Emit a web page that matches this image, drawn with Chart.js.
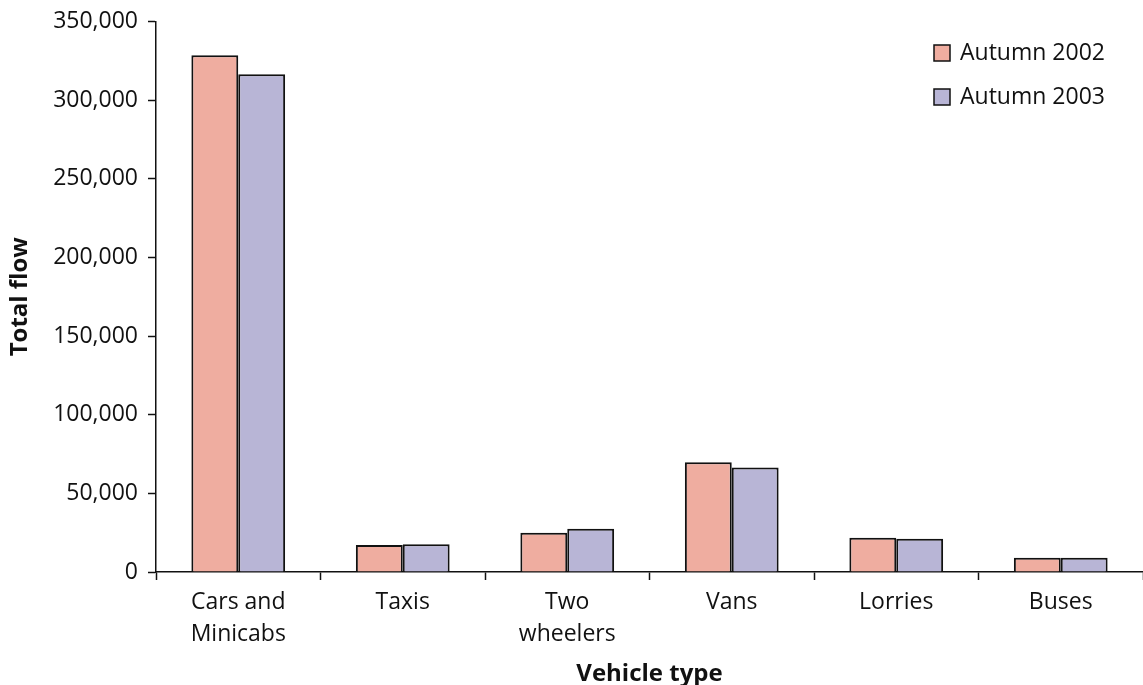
<!DOCTYPE html>
<html>
<head>
<meta charset="utf-8">
<script src="https://cdn.jsdelivr.net/npm/chart.js@4/dist/chart.umd.min.js"></script>
<style>
  html, body { margin: 0; padding: 0; background: #fff; }
  #wrap { width: 1143px; height: 685px; position: relative; }
</style>
</head>
<body>
<div id="wrap"><canvas id="c" width="1143" height="685"></canvas></div>
<script>
// Vehicle categories (multi-line labels)
const categories = [
  ['Cars and', 'Minicabs'],
  'Taxis',
  ['Two', 'wheelers'],
  'Vans',
  'Lorries',
  'Buses'
];

// Total flow by vehicle type
const autumn2002 = [328500, 17100, 24900, 69800, 21800, 9100];
const autumn2003 = [316500, 17600, 27500, 66400, 21100, 9000];

const seriesNames = ['Autumn 2002', 'Autumn 2003'];
const yTicks = [0, 50000, 100000, 150000, 200000, 250000, 300000, 350000];

const FONT = '"Open Sans", "Noto Sans", sans-serif';
const PINK = '#EFADA0';
const LILAC = '#B8B5D6';

// Legend drawn in the top-right corner of the plot area
const cornerLegend = {
  id: 'cornerLegend',
  afterDraw(chart) {
    const ctx = chart.ctx;
    const area = chart.chartArea;
    const x = area.right - 209;
    let y = 53;
    ctx.save();
    ctx.font = '23px ' + FONT;
    ctx.textBaseline = 'middle';
    ctx.textAlign = 'left';
    chart.data.datasets.forEach(ds => {
      ctx.fillStyle = ds.backgroundColor;
      ctx.fillRect(x, y - 8, 16, 16);
      ctx.lineWidth = 1.5;
      ctx.strokeStyle = '#111';
      ctx.strokeRect(x, y - 8, 16, 16);
      ctx.fillStyle = '#111';
      ctx.fillText(ds.label, x + 26, y);
      y += 44;
    });
    ctx.restore();
  }
};

new Chart(document.getElementById('c'), {
  type: 'bar',
  data: {
    labels: categories,
    datasets: [
      { label: seriesNames[0], data: autumn2002, backgroundColor: PINK, borderColor: '#111', borderWidth: 2 },
      { label: seriesNames[1], data: autumn2003, backgroundColor: LILAC, borderColor: '#111', borderWidth: 2 }
    ]
  },
  options: {
    responsive: false,
    animation: false,
    devicePixelRatio: 1,
    layout: { padding: { top: 4, right: 0, left: 0, bottom: 0 } },
    datasets: { bar: { categoryPercentage: 0.57, barPercentage: 1.0 } },
    plugins: {
      legend: { display: false },
      tooltip: { enabled: false }
    },
    scales: {
      x: {
        grid: {
          offset: true,
          drawOnChartArea: false,
          tickLength: 8,
          tickColor: '#111',
          tickWidth: 1.5
        },
        border: { color: '#111', width: 1.5 },
        ticks: {
          color: '#111',
          font: { family: FONT, size: 23, lineHeight: 1.4 },
          maxRotation: 0,
          autoSkip: false,
          padding: 6
        },
        title: {
          display: true,
          text: 'Vehicle type',
          color: '#111',
          font: { family: FONT, size: 24, weight: 'bold', lineHeight: 0.9 },
          padding: { top: 0, bottom: 0 }
        },
        afterFit(scale) { scale.height = 113; }
      },
      y: {
        min: 0,
        max: 350000,
        afterBuildTicks(scale) { scale.ticks = yTicks.map(v => ({ value: v })); },
        grid: {
          drawOnChartArea: false,
          tickLength: 8,
          tickColor: '#111',
          tickWidth: 1.5
        },
        border: { color: '#111', width: 1.5 },
        ticks: {
          color: '#111',
          font: { family: FONT, size: 23, lineHeight: 1.0 },
          padding: 10,
          callback: v => v.toLocaleString('en-US')
        },
        title: {
          display: true,
          text: 'Total flow',
          color: '#111',
          font: { family: FONT, size: 24, weight: 'bold' },
          padding: { top: 6, bottom: 4 }
        },
        afterFit(scale) { scale.width = 156; }
      }
    }
  },
  plugins: [cornerLegend]
});
</script>
</body>
</html>
